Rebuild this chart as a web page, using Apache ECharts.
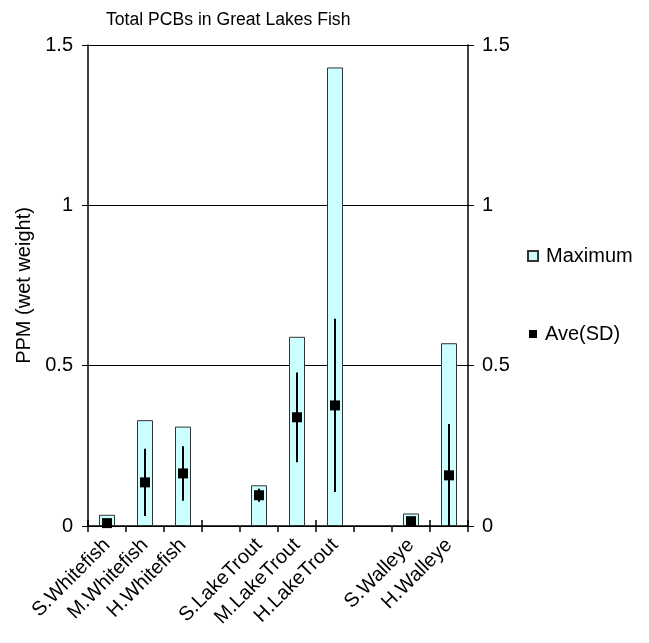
<!DOCTYPE html>
<html>
<head>
<meta charset="utf-8">
<script src="https://cdn.jsdelivr.net/npm/echarts@6/dist/echarts.min.js"></script>
<style>html,body{margin:0;padding:0;background:#fff;}#c{width:649px;height:643px;}</style>
</head>
<body>
<div id="c"></div>
<script>
const categories = ['S.Whitefish','M.Whitefish','H.Whitefish','','S.LakeTrout','M.LakeTrout','H.LakeTrout','','S.Walleye','H.Walleye'];
const maximum = [0.035, 0.33, 0.31, null, 0.127, 0.59, 1.43, null, 0.039, 0.57];
const average = [0.009, 0.136, 0.164, null, 0.096, 0.339, 0.376, null, 0.015, 0.158];
const sd      = [0.004, 0.105, 0.085, null, 0.02, 0.14, 0.27, null, 0.01, 0.16];
const yTicks = [0, 0.5, 1, 1.5];

const FONT = 'Arial, "Liberation Sans", sans-serif';
const chart = echarts.init(document.getElementById('c'));
const errData = [];
average.forEach((v, i) => { if (v != null) errData.push([i, v - sd[i], v + sd[i]]); });
const avgData = average.map((v, i) => v == null ? null : [i, v]);

chart.setOption({
  animation: false,
  textStyle: { fontFamily: FONT, color: '#000' },
  title: {
    text: 'Total PCBs in Great Lakes Fish',
    left: 101, top: 6,
    textStyle: { fontFamily: FONT, fontSize: 17.6, fontWeight: 'normal', color: '#000' }
  },
  legend: [{
    orient: 'vertical', left: 522, top: 241,
    itemWidth: 10, itemHeight: 10,
    textStyle: { fontFamily: FONT, fontSize: 20, color: '#000', padding: [0, 0, 0, 3] },
    data: [{ name: 'Maximum', icon: 'rect' }]
  }, {
    orient: 'vertical', left: 524, top: 319,
    itemWidth: 8, itemHeight: 8,
    textStyle: { fontFamily: FONT, fontSize: 20, color: '#000', padding: [0, 0, 0, 3] },
    data: [{ name: 'Ave(SD)', icon: 'rect' }]
  }],
  grid: { left: 88, right: 181, top: 45, bottom: 117, containLabel: false },
  xAxis: [{
    type: 'category', data: categories, position: 'bottom',
    axisLine: { lineStyle: { color: '#000', width: 1.5 } },
    axisTick: { show: true, length: 6, lineStyle: { color: '#000', width: 1.5 } },
    axisLabel: { rotate: 45, fontSize: 20, color: '#000', fontFamily: FONT, margin: 16, interval: 0 }
  }, {
    type: 'category', data: categories, position: 'bottom',
    axisLine: { show: false },
    axisTick: { show: true, inside: true, length: 6, lineStyle: { color: '#000', width: 1.5 } },
    axisLabel: { show: false }
  }],
  yAxis: [{
    type: 'value', min: 0, max: 1.5, interval: 0.5, position: 'left',
    name: 'PPM (wet weight)', nameLocation: 'middle', nameGap: 50,
    nameTextStyle: { fontSize: 20, color: '#000', fontFamily: FONT },
    axisLine: { show: true, lineStyle: { color: '#000', width: 1.5 } },
    axisTick: { show: true, length: 6, lineStyle: { color: '#000', width: 1 } },
    axisLabel: { fontSize: 20, color: '#000', fontFamily: FONT, margin: 15, formatter: v => String(v) },
    splitLine: { show: true, lineStyle: { color: '#000', width: 1 } }
  }, {
    type: 'value', min: 0, max: 1.5, interval: 0.5, position: 'right',
    axisLine: { show: true, lineStyle: { color: '#000', width: 1.5 } },
    axisTick: { show: true, length: 6, lineStyle: { color: '#000', width: 1 } },
    axisLabel: { fontSize: 20, color: '#000', fontFamily: FONT, margin: 14, formatter: v => String(v) },
    splitLine: { show: false }
  }],
  series: [{
    name: 'Maximum', type: 'bar', data: maximum, barWidth: 16,
    itemStyle: { color: '#CCFFFF', borderColor: '#333', borderWidth: 1 },
    z: 2
  }, {
    name: 'SD', type: 'custom', data: errData, clip: true, z: 3,
    renderItem: function (params, api) {
      const x = api.value(0);
      const lo = api.coord([x, Math.max(0, api.value(1))]);
      const hi = api.coord([x, api.value(2)]);
      return { type: 'line', shape: { x1: lo[0], y1: lo[1], x2: hi[0], y2: hi[1] }, style: { stroke: '#000', lineWidth: 2 } };
    }
  }, {
    name: 'Ave(SD)', type: 'scatter', data: avgData, symbol: 'rect', symbolSize: 10,
    itemStyle: { color: '#000', opacity: 1 }, z: 4
  }]
});
</script>
</body>
</html>
